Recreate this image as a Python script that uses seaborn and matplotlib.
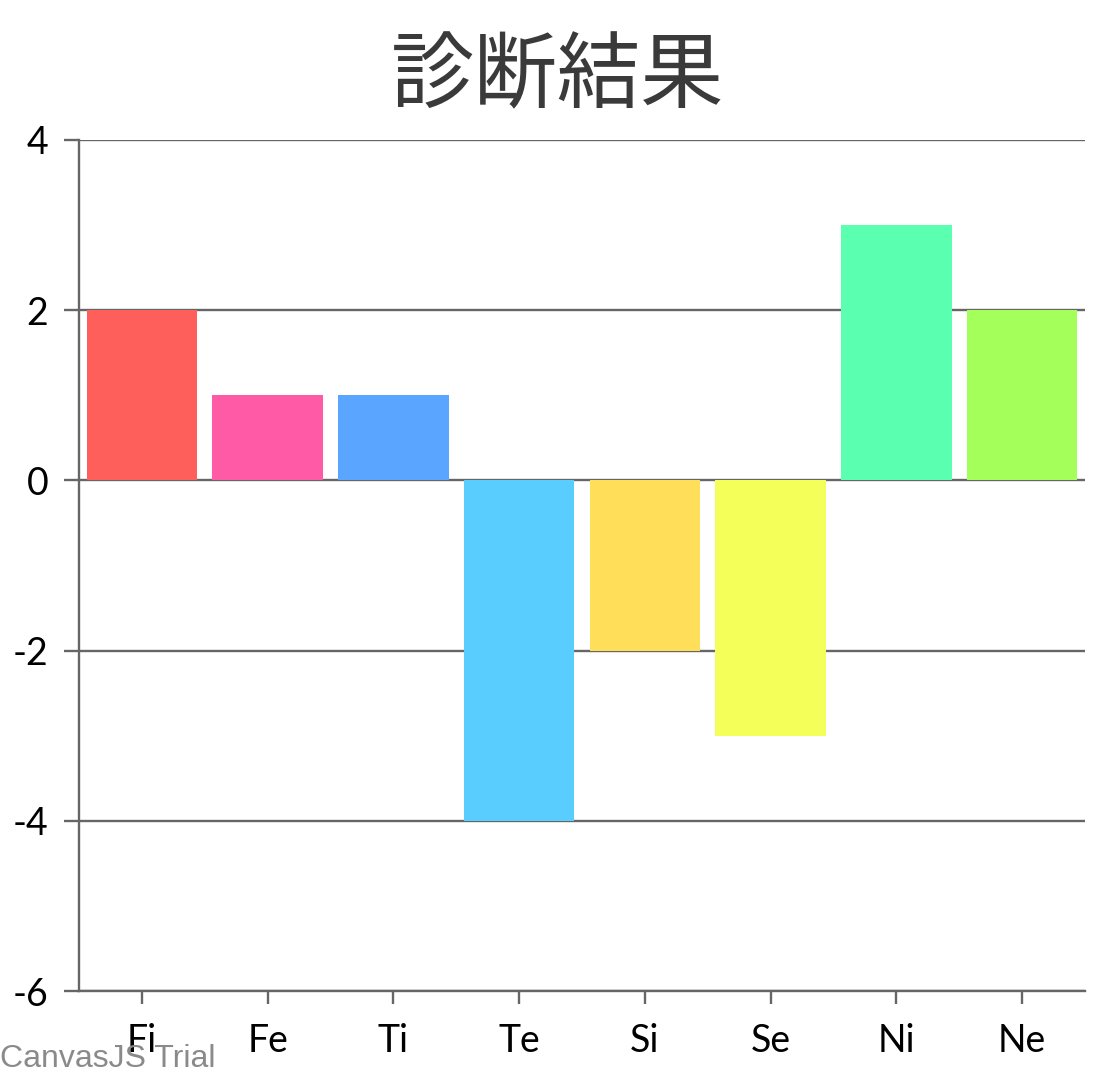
import matplotlib
matplotlib.use('Agg')
import matplotlib.pyplot as plt
import seaborn as sns
import pandas as pd

# data
categories = ['Fi', 'Fe', 'Ti', 'Te', 'Si', 'Se', 'Ni', 'Ne']
values = [2, 1, 1, -4, -2, -3, 3, 2]
bar_colors = ['#FF5F5A', '#FF5AA5', '#5AA5FF', '#5ACDFF',
              '#FFDF5A', '#F5FF5A', '#5AFFAF', '#A5FF5A']
y_ticks = [-6, -4, -2, 0, 2, 4]
title = '診断結果'

sns.set_theme(style='white')
plt.rcParams['font.family'] = ['Lato', 'Noto Sans CJK JP', 'DejaVu Sans']

df = pd.DataFrame({'type': categories, 'score': values})

fig = plt.figure(figsize=(11.16, 10.8), dpi=100)
ax = fig.add_axes([0.0708, 0.0824, 0.9014, 0.788])

grid_color = '#666666'
for y in y_ticks:
    ax.axhline(y, color=grid_color, lw=1.7, zorder=1)

sns.barplot(data=df, x='type', y='score', hue='type', palette=bar_colors,
            legend=False, width=0.88, saturation=1, linewidth=0,
            ax=ax, zorder=2)

ax.set_xlim(-0.5, len(categories) - 0.5)
ax.set_ylim(-6, 4)
ax.set_yticks(y_ticks)
ax.set_yticklabels([str(t) for t in y_ticks])
ax.set_xlabel('')
ax.set_ylabel('')

for side in ['top', 'right']:
    ax.spines[side].set_visible(False)
ax.spines['left'].set_color(grid_color)
ax.spines['left'].set_linewidth(1.7)
ax.spines['bottom'].set_color(grid_color)
ax.spines['bottom'].set_linewidth(1.7)

ax.tick_params(axis='y', left=True, length=11, width=1.7, color=grid_color,
               labelsize=27, labelcolor='black', pad=11)
ax.tick_params(axis='x', bottom=True, length=9, width=1.7, color=grid_color,
               labelsize=27, labelcolor='black', pad=14)

fig.text(0.5, 0.929, title, ha='center', va='center', fontsize=60,
         color='#3A3A3A', family=['Noto Sans CJK JP', 'DejaVu Sans'])

# trial watermark sits over the first x label, like the original
fig.text(0.0, 0.006, 'CanvasJS Trial', ha='left', va='bottom', fontsize=23,
         color='#8A8A8A', family=['Liberation Sans', 'DejaVu Sans'],
         zorder=10)

fig.savefig('out.png', dpi=100, facecolor='white')
